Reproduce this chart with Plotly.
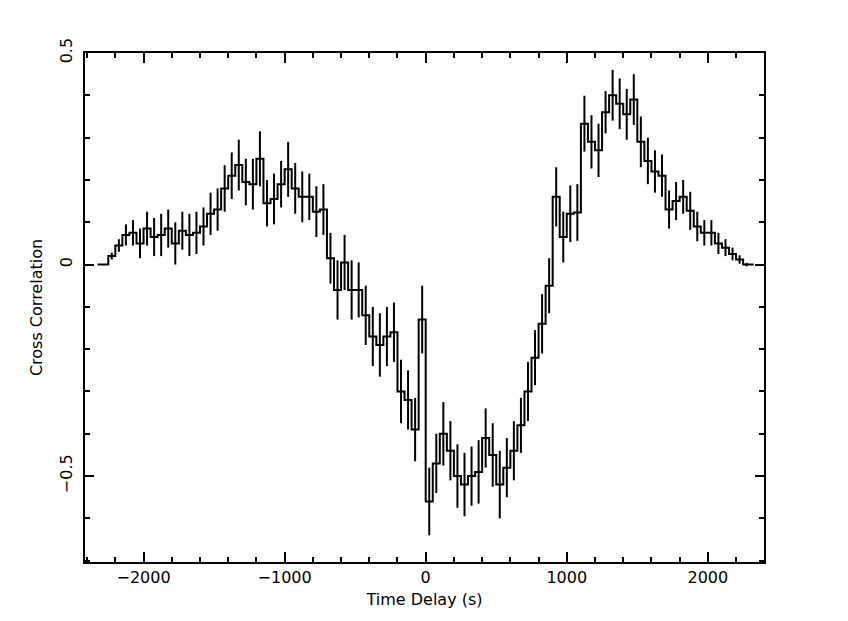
import plotly.graph_objects as go

# Time delay (s), bin centres (50 s bins)
lag = [-2325, -2275, -2225, -2175, -2125, -2075, -2025, -1975, -1925, -1875,
       -1825, -1775, -1725, -1675, -1625, -1575, -1525, -1475, -1425, -1375,
       -1325, -1275, -1225, -1175, -1125, -1075, -1025, -975, -925, -875,
       -825, -775, -725, -675, -625, -575, -525, -475, -425, -375,
       -325, -275, -225, -175, -125, -75, -25, 25, 75, 125,
       175, 225, 275, 325, 375, 425, 475, 525, 575, 625,
       675, 725, 775, 825, 875, 925, 975, 1025, 1075, 1125,
       1175, 1225, 1275, 1325, 1375, 1425, 1475, 1525, 1575, 1625,
       1675, 1725, 1775, 1825, 1875, 1925, 1975, 2025, 2075, 2125,
       2175, 2225, 2275, 2325]

# Cross correlation value per bin
ccf = [0.0, 0.0, 0.02, 0.045, 0.07, 0.075, 0.05, 0.085, 0.065, 0.07,
       0.085, 0.05, 0.08, 0.07, 0.075, 0.09, 0.12, 0.13, 0.18, 0.21,
       0.235, 0.195, 0.19, 0.25, 0.145, 0.155, 0.19, 0.225, 0.18, 0.16,
       0.16, 0.125, 0.13, 0.015, -0.06, 0.005, -0.06, -0.06, -0.12, -0.17,
       -0.19, -0.17, -0.16, -0.30, -0.32, -0.39, -0.13, -0.56, -0.47, -0.40,
       -0.44, -0.50, -0.52, -0.50, -0.49, -0.41, -0.45, -0.52, -0.48, -0.44,
       -0.38, -0.30, -0.22, -0.14, -0.05, 0.16, 0.065, 0.12, 0.123, 0.333,
       0.29, 0.27, 0.36, 0.40, 0.38, 0.355, 0.39, 0.29, 0.245, 0.22,
       0.21, 0.13, 0.15, 0.16, 0.127, 0.09, 0.075, 0.075, 0.05, 0.04,
       0.025, 0.012, 0.0, 0.0]

# 1-sigma error per bin
err = [0.0, 0.0, 0.008, 0.015, 0.025, 0.03, 0.035, 0.04, 0.045, 0.05,
       0.045, 0.05, 0.045, 0.05, 0.05, 0.045, 0.05, 0.05, 0.055, 0.055,
       0.06, 0.055, 0.06, 0.065, 0.055, 0.06, 0.055, 0.065, 0.06, 0.06,
       0.055, 0.06, 0.06, 0.06, 0.07, 0.065, 0.07, 0.065, 0.07, 0.07,
       0.075, 0.07, 0.07, 0.075, 0.07, 0.075, 0.08, 0.08, 0.07, 0.075,
       0.07, 0.075, 0.075, 0.07, 0.075, 0.07, 0.075, 0.08, 0.07, 0.07,
       0.065, 0.07, 0.065, 0.07, 0.065, 0.07, 0.06, 0.067, 0.067, 0.066,
       0.063, 0.063, 0.05, 0.06, 0.06, 0.06, 0.06, 0.06, 0.055, 0.05,
       0.05, 0.045, 0.045, 0.04, 0.045, 0.035, 0.03, 0.03, 0.025, 0.02,
       0.015, 0.01, 0.004, 0.0]

x_ticks = [-2000, -1000, 0, 1000, 2000]
x_ticklabels = ["\u22122000", "\u22121000", "0", "1000", "2000"]
y_ticks = [-0.5, 0, 0.5]
y_ticklabels = ["\u22120.5", "0", "0.5"]

FONT = "DejaVu Sans"

fig = go.Figure()
fig.add_trace(go.Scatter(
    x=lag, y=ccf, mode="lines",
    line=dict(color="black", width=2, shape="hvh"),
    error_y=dict(type="data", array=err, visible=True, color="black",
                 thickness=2, width=0),
    showlegend=False, hoverinfo="skip",
))

# page body has an 8px margin: figure is 840x613, offset by 8px
fig.update_layout(
    width=840, height=613,
    margin=dict(l=77, r=84, t=45, b=59),
    paper_bgcolor="white", plot_bgcolor="white",
    font=dict(family=FONT, size=16, color="black"),
)
fig.update_xaxes(
    range=[-2415, 2398],
    tickmode="array", tickvals=x_ticks, ticktext=x_ticklabels,
    ticks="inside", ticklen=10, tickwidth=1.5, tickcolor="black",
    minor=dict(dtick=200, tick0=0, ticks="inside", ticklen=5,
               tickwidth=1.5, tickcolor="black", showgrid=False),
    showline=True, linewidth=2, linecolor="black", mirror="ticks",
    showgrid=False, zeroline=False,
    tickfont=dict(size=16, family=FONT),
    title=dict(text="Time Delay (s)", font=dict(size=16, family=FONT),
               standoff=8),
)
fig.update_yaxes(
    range=[-0.703, 0.5],
    tickmode="array", tickvals=y_ticks, ticktext=y_ticklabels,
    tickangle=-90, ticklabelstandoff=5,
    ticks="inside", ticklen=9, tickwidth=1.5, tickcolor="black",
    minor=dict(dtick=0.1, tick0=0, ticks="inside", ticklen=5,
               tickwidth=1.5, tickcolor="black", showgrid=False),
    showline=True, linewidth=2, linecolor="black", mirror="ticks",
    showgrid=False, zeroline=False,
    tickfont=dict(size=16, family=FONT),
    title=dict(text="Cross Correlation", font=dict(size=16, family=FONT),
               standoff=10),
)

fig.write_html("out.html")
